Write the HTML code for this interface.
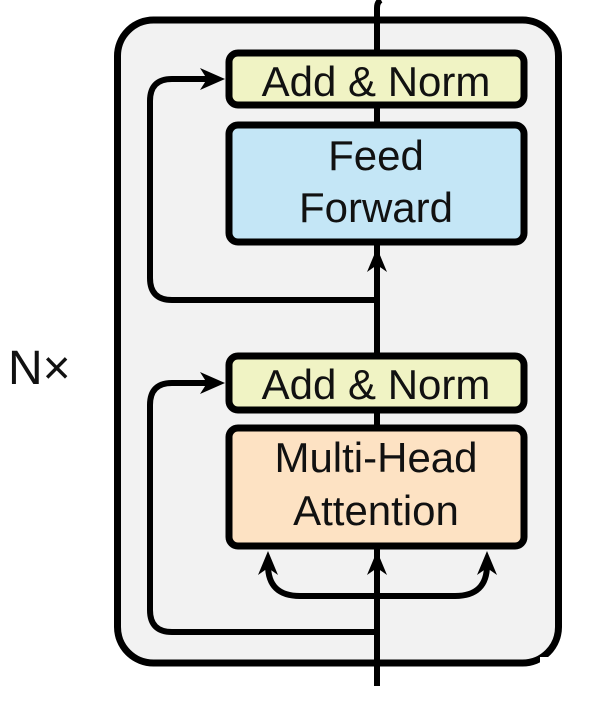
<!DOCTYPE html>
<html><head><meta charset="utf-8"><style>
html,body{margin:0;padding:0;background:#fff;width:603px;height:702px;overflow:hidden}
text{font-family:"Liberation Sans",sans-serif;font-weight:300;fill:#111}
</style></head><body>
<svg width="603" height="702" viewBox="0 0 603 702" xmlns="http://www.w3.org/2000/svg">
<rect x="117.5" y="20" width="441" height="643" rx="36" fill="#f2f2f2" stroke="#000" stroke-width="7"/>
<rect x="540" y="657" width="63" height="45" fill="#fff"/>
<path d="M377 686 L377 8 Q377 2 381 0" fill="none" stroke="#000" stroke-width="6"/>
<path d="M377 300 L172 300 Q150 300 150 278 L150 101 Q150 79 172 79 L212 79" fill="none" stroke="#000" stroke-width="6"/>
<path d="M377 632 L172 632 Q150 632 150 610 L150 405 Q150 383 172 383 L212 383" fill="none" stroke="#000" stroke-width="6"/>
<path d="M200 68 L225 79 L200 90 L207 79 Z" fill="#000"/>
<path d="M200 372 L225 383 L200 394 L207 383 Z" fill="#000"/>
<path d="M377 596 L300 596 Q268 596 268 565" fill="none" stroke="#000" stroke-width="6"/>
<path d="M377 596 L455 596 Q487 596 487 565" fill="none" stroke="#000" stroke-width="6"/>
<path d="M258 575 L268 551 L278 575 L268 568 Z" fill="#000"/>
<path d="M477 575 L487 551 L497 575 L487 568 Z" fill="#000"/>
<path d="M367 575 L377 551 L387 575 L377 568 Z" fill="#000"/>
<path d="M367 272 L377 248 L387 272 L377 265 Z" fill="#000"/>
<rect x="229" y="53" width="295" height="52" rx="9" fill="#f0f3c4" stroke="#000" stroke-width="7"/>
<rect x="229" y="125" width="295" height="117" rx="9" fill="#c4e6f6" stroke="#000" stroke-width="7"/>
<rect x="229" y="356" width="295" height="54" rx="9" fill="#f0f3c4" stroke="#000" stroke-width="7"/>
<rect x="229" y="428" width="295" height="118" rx="9" fill="#fde2c3" stroke="#000" stroke-width="7"/>
<text x="376" y="96" font-size="42" text-anchor="middle">Add &amp; Norm</text>
<text x="376" y="170" font-size="42" text-anchor="middle">Feed</text>
<text x="376" y="222" font-size="42" text-anchor="middle">Forward</text>
<text x="376" y="399" font-size="42" text-anchor="middle">Add &amp; Norm</text>
<text x="376" y="472" font-size="42" text-anchor="middle">Multi-Head</text>
<text x="376" y="525" font-size="42" text-anchor="middle">Attention</text>
<text x="8" y="384" font-size="48">N×</text>
</svg>
</body></html>
